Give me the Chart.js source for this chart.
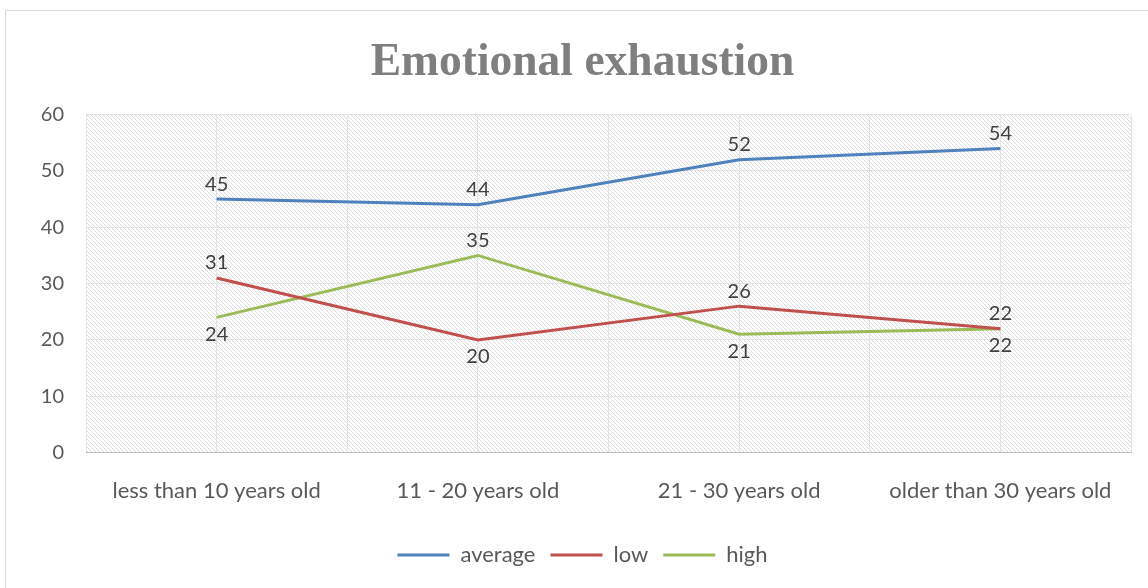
<!DOCTYPE html>
<html lang="en">
<head>
<meta charset="UTF-8">
<title>Emotional exhaustion</title>
<script src="https://cdn.jsdelivr.net/npm/chart.js"></script>
<style>
  html, body { margin: 0; padding: 0; background: #ffffff; }
  .wrap { position: relative; width: 1148px; height: 588px; overflow: hidden; }
  .frame { position: absolute; left: 5px; top: 10px; width: 1200px; height: 620px; border: 1px solid #d9d9d9; }
  #chart { position: absolute; left: 0; top: 0; }
</style>
</head>
<body>
<div class="wrap">
  <div class="frame"></div>
  <canvas id="chart" width="1148" height="588"></canvas>
</div>
<script>
const ageGroups = ['less than 10 years old', '11 - 20 years old', '21 - 30 years old', 'older than 30 years old'];
const average = [45, 44, 52, 54];
const low = [31, 20, 26, 22];
const high = [24, 35, 21, 22];
const yTicks = [0, 10, 20, 30, 40, 50, 60];

// which side of the line each value label sits on
const labelSide = {
  average: ['above', 'above', 'above', 'above'],
  low: ['above', 'below', 'above', 'above'],
  high: ['below', 'above', 'below', 'below']
};

const FONT = 'Lato, "Open Sans", sans-serif';

// diagonal hatch behind the plot area
function hatchPattern(ctx) {
  const c = document.createElement('canvas');
  c.width = 4; c.height = 4;
  const g = c.getContext('2d');
  g.fillStyle = '#ffffff';
  g.fillRect(0, 0, 4, 4);
  g.strokeStyle = '#dcdcdc';
  g.lineWidth = 1;
  g.beginPath();
  g.moveTo(-1, -1); g.lineTo(5, 5);
  g.moveTo(-1, 3); g.lineTo(1, 5);
  g.moveTo(3, -1); g.lineTo(5, 1);
  g.stroke();
  return ctx.createPattern(c, 'repeat');
}

const plotBackground = {
  id: 'plotBackground',
  beforeDraw(chart) {
    const { ctx, chartArea: a } = chart;
    ctx.save();
    ctx.fillStyle = hatchPattern(ctx);
    ctx.fillRect(a.left, a.top, a.right - a.left, a.bottom - a.top);
    ctx.restore();
  }
};

const valueLabels = {
  id: 'valueLabels',
  afterDatasetsDraw(chart) {
    const ctx = chart.ctx;
    ctx.save();
    ctx.font = '20px ' + FONT;
    ctx.fillStyle = '#404040';
    ctx.textAlign = 'center';
    chart.data.datasets.forEach((ds, di) => {
      const meta = chart.getDatasetMeta(di);
      meta.data.forEach((pt, i) => {
        const side = labelSide[ds.label][i];
        if (side === 'above') {
          ctx.textBaseline = 'bottom';
          ctx.fillText(ds.data[i], pt.x, pt.y - 5);
        } else {
          ctx.textBaseline = 'top';
          ctx.fillText(ds.data[i], pt.x, pt.y + 7);
        }
      });
    });
    ctx.restore();
  }
};

new Chart(document.getElementById('chart'), {
  type: 'line',
  data: {
    labels: ageGroups,
    datasets: [
      { label: 'average', data: average, borderColor: '#4f81bd', backgroundColor: '#4f81bd', borderWidth: 3 },
      { label: 'low', data: low, borderColor: '#c0504d', backgroundColor: '#c0504d', borderWidth: 3 },
      { label: 'high', data: high, borderColor: '#9bbb59', backgroundColor: '#9bbb59', borderWidth: 3 }
    ]
  },
  options: {
    responsive: false,
    animation: false,
    elements: {
      line: { tension: 0 },
      point: { radius: 0, hoverRadius: 0 }
    },
    layout: { padding: { left: 34, right: 17, top: 18, bottom: 12 } },
    plugins: {
      title: {
        display: true,
        text: 'Emotional exhaustion',
        color: '#7f7f7f',
        font: { family: '"Liberation Serif", serif', size: 45.5, weight: 'bold' },
        padding: { top: 18, bottom: 24 }
      },
      legend: {
        position: 'bottom',
        labels: {
          usePointStyle: true,
          pointStyle: 'line',
          pointStyleWidth: 52,
          color: '#595959',
          font: { family: FONT, size: 22 },
          padding: 15
        }
      },
      tooltip: { enabled: false }
    },
    scales: {
      x: {
        offset: true,
        grid: { offset: false, color: '#e4e4e4', drawTicks: false },
        border: { color: '#bfbfbf' },
        ticks: { color: '#595959', font: { family: FONT, size: 22 }, padding: 25, maxRotation: 0 }
      },
      xBounds: {
        type: 'category',
        labels: ageGroups,
        position: 'bottom',
        offset: true,
        grid: { offset: true, color: '#e4e4e4', drawTicks: false },
        border: { display: false },
        ticks: { display: false }
      },
      y: {
        min: 0,
        max: 60,
        afterBuildTicks(scale) { scale.ticks = yTicks.map(v => ({ value: v })); },
        afterFit(scale) { scale.width = 52; },
        grid: { color: '#e4e4e4', drawTicks: false },
        border: { display: false },
        ticks: { color: '#595959', font: { family: FONT, size: 20 }, padding: 22 }
      }
    }
  },
  plugins: [plotBackground, valueLabels]
});
</script>
</body>
</html>
